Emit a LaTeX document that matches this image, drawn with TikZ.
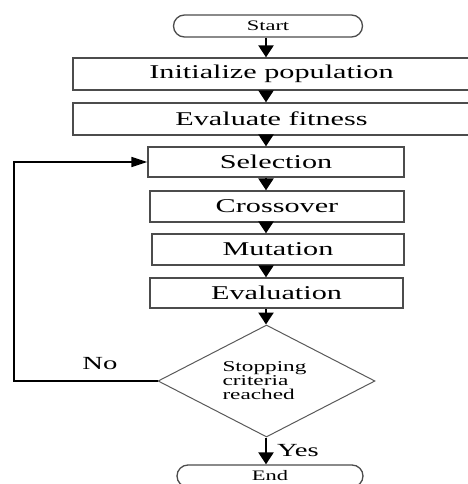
\documentclass[tikz,border=0pt]{standalone}
\usepackage{fontspec}
\setmainfont[FakeStretch=1.55]{Liberation Serif}
\usetikzlibrary{shapes.geometric,arrows.meta}

\tikzset{
    stepbox/.style={draw=black!70, line width=1.3pt, inner sep=0pt, font=\fontsize{19.5}{22}\selectfont},
    terminal/.style={draw=black!70, line width=1.3pt, rounded corners=11pt, inner sep=0pt, minimum height=22pt, font=\fontsize{14.5}{16}\selectfont},
    decision/.style={draw=black!65, line width=1pt, diamond, aspect=1.92, inner sep=0pt, minimum width=217pt, minimum height=112pt, font=\fontsize{15}{14}\selectfont},
    flow/.style={line width=2.4pt, -{Triangle[width=15pt,length=12pt]}},
    back/.style={line width=1.6pt, -{Triangle[width=10pt,length=16pt]}},
    answer/.style={font=\fontsize{18.5}{20}\selectfont}
}

\begin{document}
\begin{tikzpicture}[x=1pt, y=-1pt]
        \useasboundingbox (0,0) rectangle (467,484);

        \coordinate (axis) at (266,0);
        \coordinate (corner) at (14,0);

        \node[terminal, minimum width=189pt] (start) at (268,26) {Start};
        \node[stepbox, minimum width=397pt, minimum height=32pt] (init) at (271.5,74) {Initialize population};
        \node[stepbox, minimum width=397pt, minimum height=32pt] (fit) at (271.5,119) {Evaluate fitness};
        \node[stepbox, minimum width=256pt, minimum height=30pt] (sel) at (276,162) {Selection};
        \node[stepbox, minimum width=254pt, minimum height=31pt] (cross) at (277,206.5) {Crossover};
        \node[stepbox, minimum width=252pt, minimum height=31pt] (mut) at (278,249.5) {Mutation};
        \node[stepbox, minimum width=253pt, minimum height=30pt] (evl) at (276.5,293) {Evaluation};
        \node[decision] (stop) at (266.5,381) {\raisebox{4pt}{\parbox{88pt}{Stopping\\criteria\\reached}}};
        \node[terminal, minimum width=186pt] (end) at (270,476) {End};

        \foreach \a/\b in {start/init, init/fit, fit/sel, sel/cross, cross/mut, mut/evl, evl/stop, stop/end} {
            \draw[flow] (\a.south -| axis) -- (\b.north -| axis);
        }

        \draw[back] (stop.west) -- (stop.west -| corner) -- (sel.west -| corner) -- (sel.west);

        \node[answer] (no) at (100,364) {No};
        \node[answer] (yes) at (298,451) {Yes};

    \end{tikzpicture}
\end{document}
